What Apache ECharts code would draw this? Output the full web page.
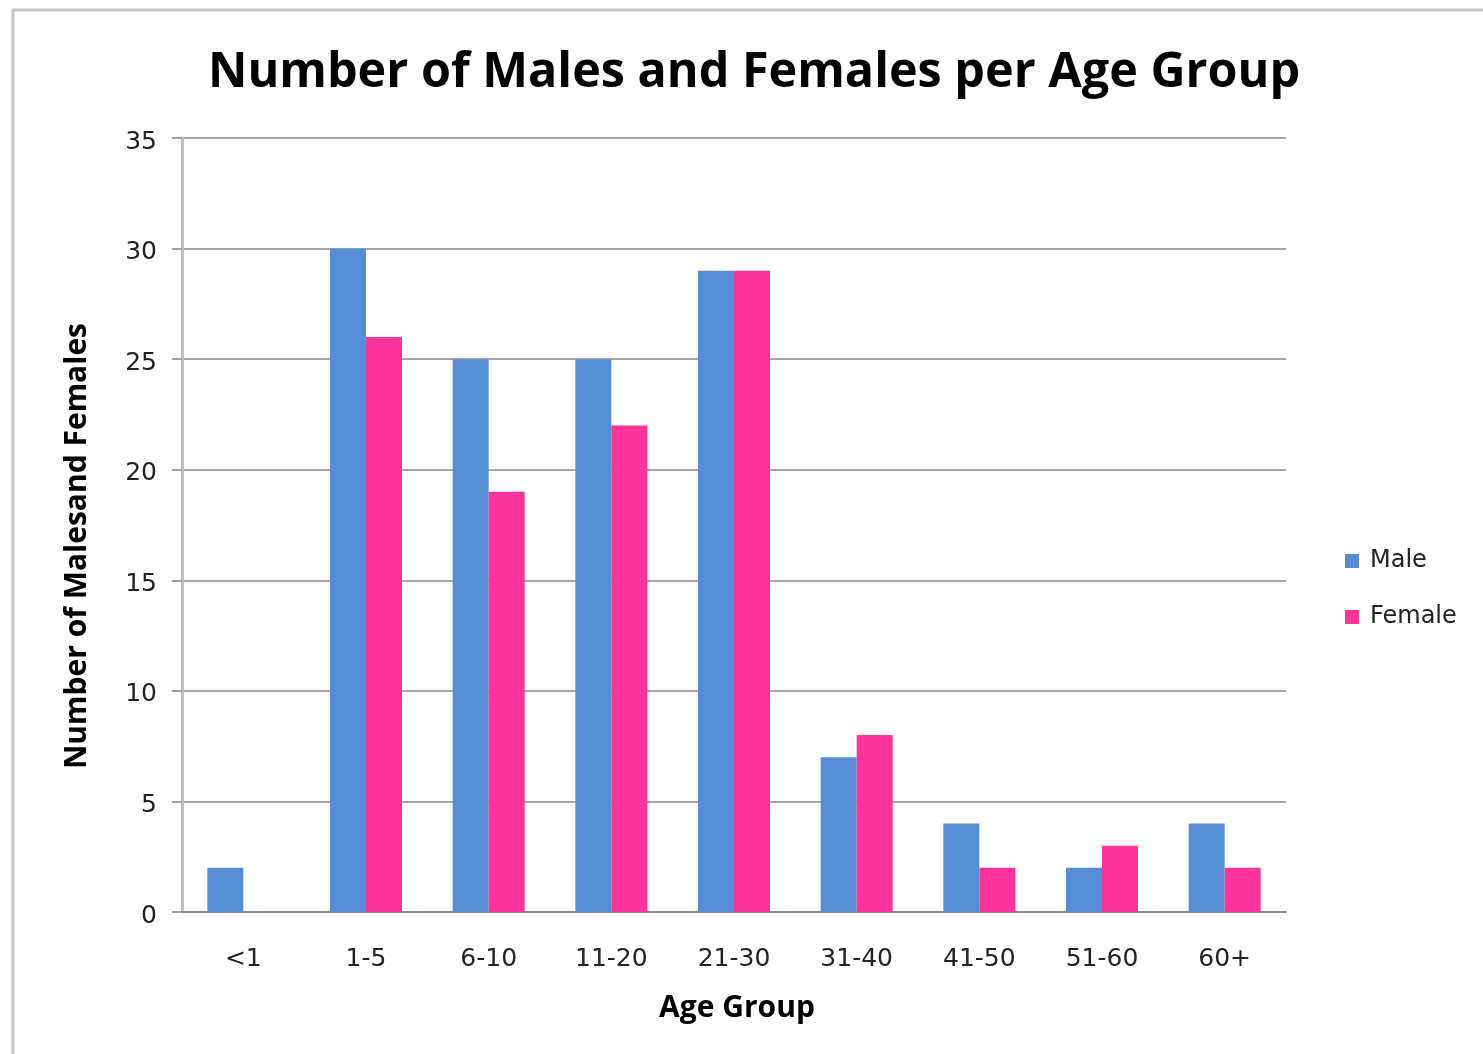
<!DOCTYPE html>
<html>
<head>
<meta charset="utf-8">
<title>Number of Males and Females per Age Group</title>
<script src="https://cdn.jsdelivr.net/npm/echarts@6/dist/echarts.min.js"></script>
<style>
  html, body { margin: 0; padding: 0; background: #ffffff; }
  #chart { width: 1483px; height: 1054px; }
</style>
</head>
<body>
<div id="chart"></div>
<script>
// Age groups along the x axis
const ageGroups = ['<1', '1-5', '6-10', '11-20', '21-30', '31-40', '41-50', '51-60', '60+'];
// Head counts per age group
const maleCounts = [2, 30, 25, 25, 29, 7, 4, 2, 4];
const femaleCounts = [0, 26, 19, 22, 29, 8, 2, 3, 2];
// Value axis range
const yMin = 0;
const yMax = 35;
const yStep = 5;

const MALE_COLOR = '#558ED5';
const FEMALE_COLOR = '#FF3399';
const TITLE_FONT = '"Open Sans", Lato, sans-serif';
const TICK_FONT = '"DejaVu Sans", Verdana, sans-serif';

const chart = echarts.init(document.getElementById('chart'), null, { renderer: 'canvas' });

chart.setOption({
  backgroundColor: '#ffffff',
  animation: false,
  // outer chart-area frame
  graphic: [{
    type: 'rect',
    shape: { x: 13, y: 10, width: 2000, height: 2000 },
    style: { fill: 'none', stroke: '#c6c6c6', lineWidth: 3 },
    silent: true
  }],
  title: {
    text: 'Number of Males and Females per Age Group',
    left: 203,
    top: 44,
    textStyle: {
      fontFamily: TITLE_FONT,
      fontWeight: 'bold',
      fontSize: 48.5,
      color: '#000000'
    }
  },
  legend: {
    orient: 'vertical',
    left: 1340,
    top: 544,
    itemWidth: 14,
    itemHeight: 14,
    itemGap: 32,
    icon: 'rect',
    textStyle: { fontFamily: TICK_FONT, fontSize: 24, color: '#222222', padding: [0, 0, 0, 6] },
    data: ['Male', 'Female']
  },
  grid: {
    left: 182,
    right: 197,
    top: 138,
    bottom: 142,
    containLabel: false
  },
  xAxis: {
    type: 'category',
    data: ageGroups,
    name: 'Age Group',
    nameLocation: 'middle',
    nameGap: 81,
    nameTextStyle: {
      fontFamily: TITLE_FONT,
      fontWeight: 'bold',
      fontSize: 30,
      color: '#000000',
      padding: [0, 0, 0, 6]
    },
    axisLine: { show: true, lineStyle: { color: '#8c8c8c', width: 2 } },
    axisTick: { show: false },
    axisLabel: {
      fontFamily: TICK_FONT,
      fontSize: 25,
      color: '#222222',
      margin: 35,
      interval: 0
    },
    splitLine: { show: false }
  },
  yAxis: {
    type: 'value',
    min: yMin,
    max: yMax,
    interval: yStep,
    name: 'Number of Malesand Females',
    nameLocation: 'middle',
    nameGap: 90,
    nameTextStyle: {
      fontFamily: TITLE_FONT,
      fontWeight: 'bold',
      fontSize: 30,
      color: '#000000',
      padding: [0, 42, 0, 0]
    },
    axisLine: { show: true, lineStyle: { color: '#c0c0c0', width: 3 } },
    axisTick: { show: true, length: 10, lineStyle: { color: '#a0a0a0', width: 2 } },
    axisLabel: {
      margin: 25,
      formatter: '{v|{value}}',
      rich: {
        v: {
          fontFamily: TICK_FONT,
          fontSize: 25,
          color: '#222222',
          padding: [8, 0, 0, 0]
        }
      }
    },
    splitLine: { show: true, lineStyle: { color: '#a6a6a6', width: 2 } }
  },
  series: [
    {
      name: 'Male',
      type: 'bar',
      data: maleCounts,
      barWidth: 36,
      barGap: '0%',
      itemStyle: { color: MALE_COLOR }
    },
    {
      name: 'Female',
      type: 'bar',
      data: femaleCounts,
      barWidth: 36,
      barGap: '0%',
      itemStyle: { color: FEMALE_COLOR }
    }
  ]
});
</script>
</body>
</html>
